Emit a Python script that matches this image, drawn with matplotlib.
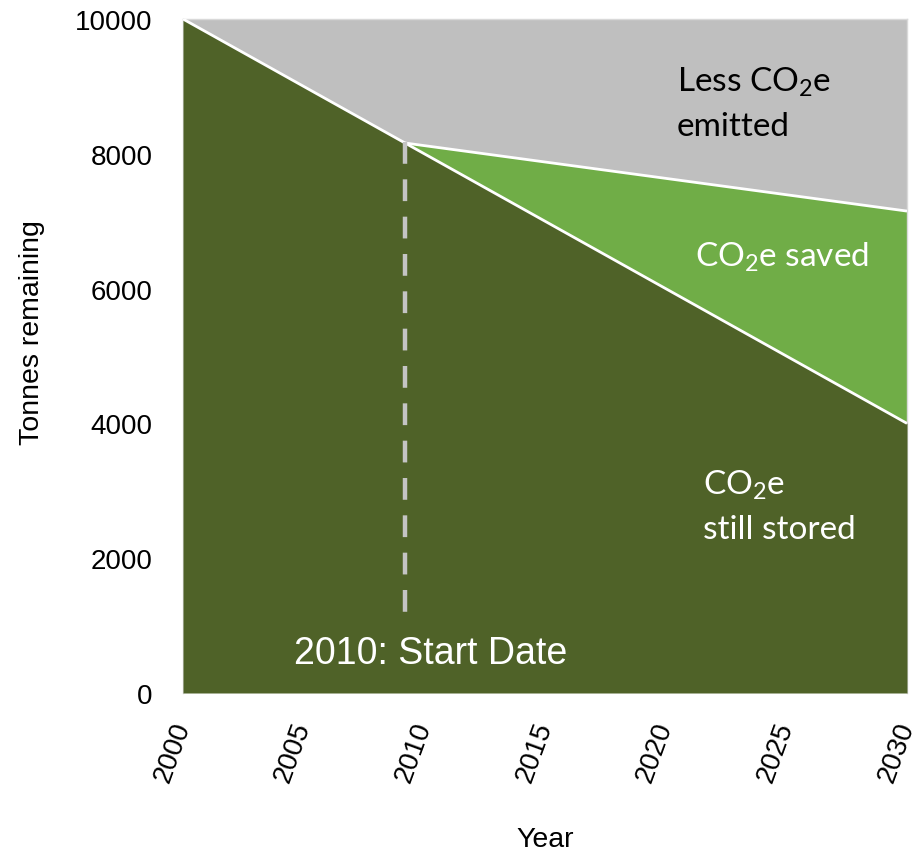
import matplotlib
matplotlib.use("Agg")
import matplotlib.pyplot as plt
import numpy as np

# ---- data ----
stored_years = [2000, 2030]
stored_values = [10000, 4000]
start_year = 2009.2
saved_years = [2009.2, 2030]
saved_top = [8160, 7150]
dash_range = [8170, 1128]
x_ticks = [2000, 2005, 2010, 2015, 2020, 2025, 2030]
y_ticks = [0, 2000, 4000, 6000, 8000, 10000]

DARK = "#4f6228"
LIGHT = "#70ad47"
GRAY = "#bfbfbf"

plt.rcParams["mathtext.fontset"] = "custom"
plt.rcParams["mathtext.rm"] = "Lato"
plt.rcParams["mathtext.it"] = "Lato:italic"

fig = plt.figure(figsize=(9.22, 8.54), dpi=100)
ax = fig.add_axes([183/922, 1-694/854, (907-183)/922, (694-20)/854])

ax.set_xlim(2000, 2030)
ax.set_ylim(0, 10000)

# gray background area (less emitted)
ax.fill_between(stored_years, [0, 0], [10000, 10000], color=GRAY, lw=0, zorder=1)
# saved area
sx = np.array(saved_years)
lower = np.interp(sx, stored_years, stored_values)
ax.fill_between(sx, lower, saved_top, color=LIGHT, lw=0, zorder=2)
# stored area
ax.fill_between(stored_years, [0, 0], stored_values, color=DARK, lw=0, zorder=3)
# white boundaries
ax.plot(stored_years, stored_values, color="white", lw=2.0, zorder=4, solid_capstyle="butt")
ax.plot(saved_years, saved_top, color="white", lw=2.0, zorder=4, solid_capstyle="butt")

# dashed start line
ax.plot([start_year, start_year], dash_range, color="#c4c4c4", lw=3.2,
        linestyle=(0, (4.9, 3.5)), dash_capstyle="butt", zorder=5)

# axes styling
for s in ax.spines.values():
    s.set_color("#d9d9d9")
    s.set_linewidth(1)
ax.spines["bottom"].set_visible(False)
ax.set_xticks(x_ticks)
ax.set_yticks(y_ticks)
ax.tick_params(axis="both", length=0)
ax.tick_params(axis="y", pad=22)
ax.tick_params(axis="x", pad=21)
ax.set_yticklabels([str(v) for v in y_ticks], fontsize=20, family="Liberation Sans")
ax.set_xticklabels([str(v) for v in x_ticks], fontsize=20, family="Liberation Sans",
                   rotation=70, rotation_mode="anchor", ha="right", va="center")

fig.text(32/922, 1-333/854, "Tonnes remaining", rotation=90, fontsize=20.5,
         family="Liberation Sans", ha="center", va="center")
fig.text(545/922, 1-847/854, "Year", fontsize=20.5, family="Liberation Sans",
         ha="center", va="baseline")

# annotations
afont = dict(family="Lato", fontsize=24, va="baseline", ha="left", zorder=6)
ax.text(2020.47, 8932, "Less CO$_2$e", color="black", **afont)
ax.text(2020.47, 8279, "emitted", color="black", **afont)
ax.text(2021.2, 6335, "CO$_2$e saved", color="white", **afont)
ax.text(2021.55, 2953, "CO$_2$e", color="white", **afont)
ax.text(2021.55, 2300, "still stored", color="white", **afont)
ax.text(2004.6, 445, "2010: Start Date", color="white", family="Liberation Sans",
        fontsize=27, va="baseline", ha="left", zorder=6)

fig.savefig("out.png", dpi=100)
